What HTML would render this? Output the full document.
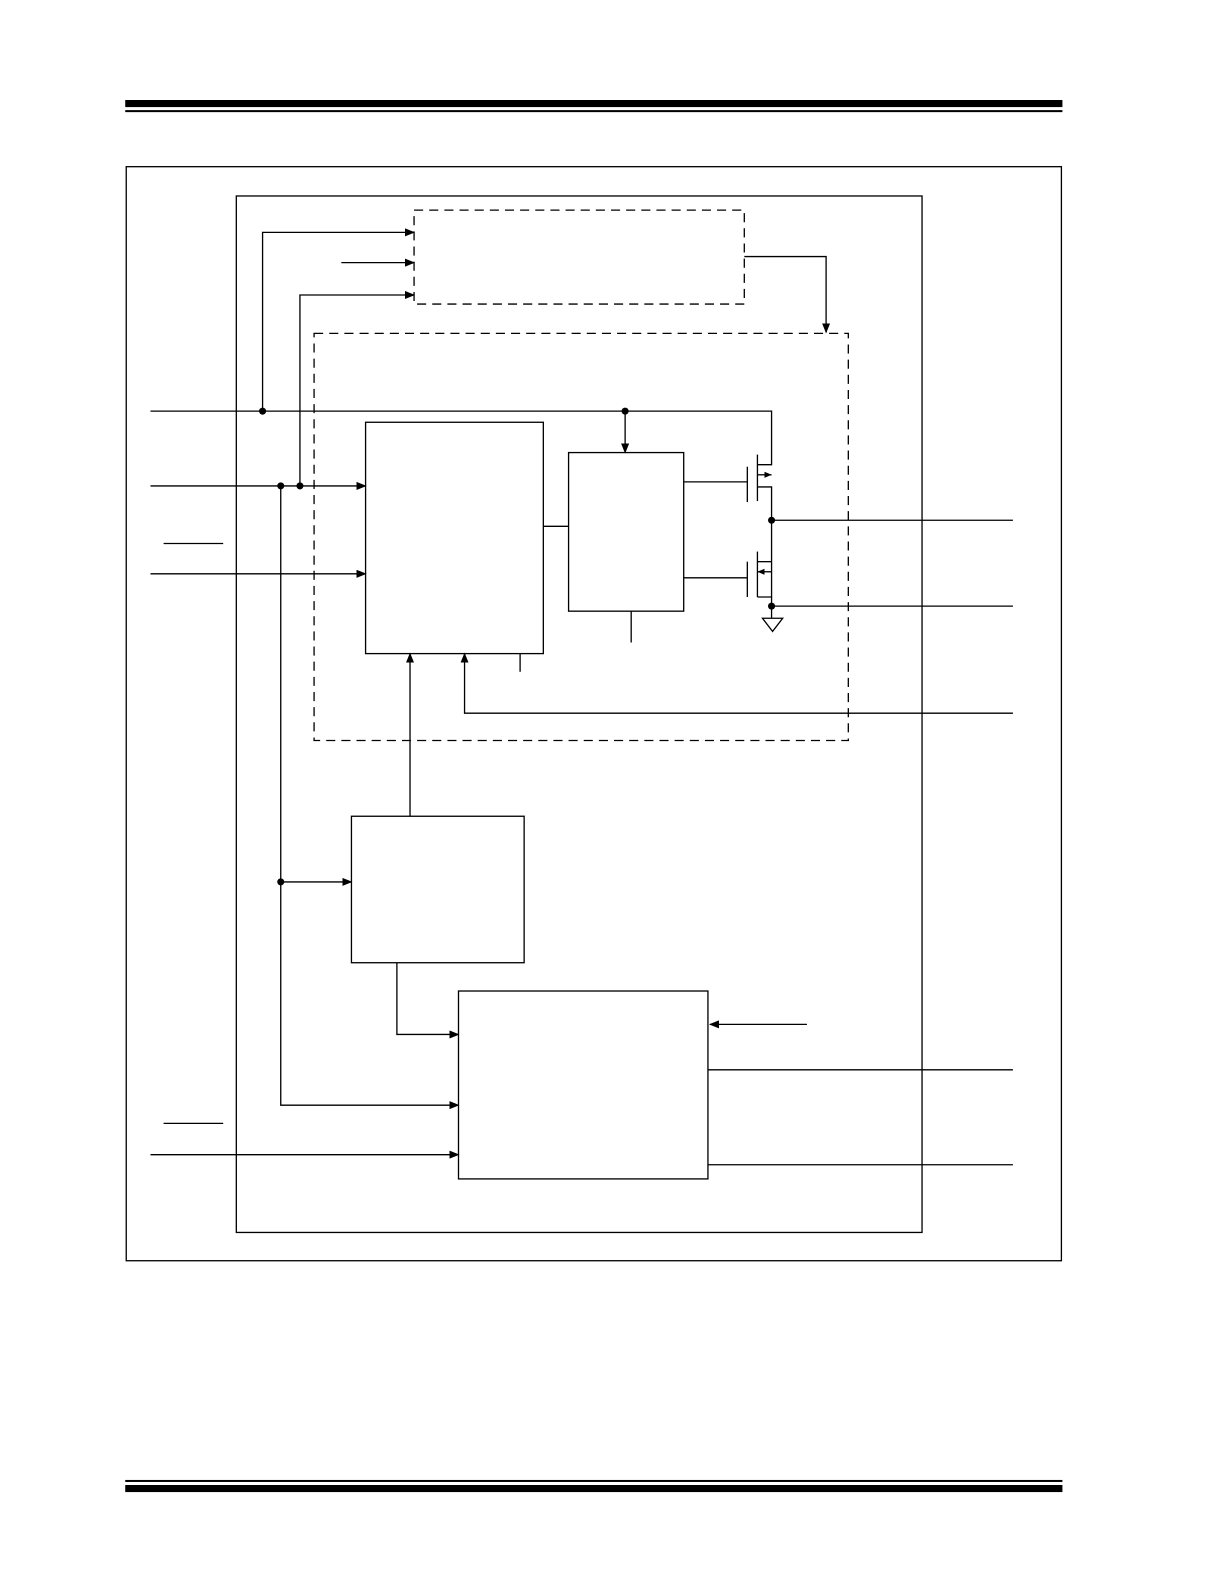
<!DOCTYPE html>
<html><head><meta charset="utf-8"><style>html,body{margin:0;padding:0;background:#fff}svg{display:block}</style></head>
<body>
<svg width="1224" height="1584" viewBox="0 0 1212 1568" preserveAspectRatio="none" xmlns="http://www.w3.org/2000/svg">
<defs>
<marker id="a" markerWidth="10" markerHeight="8" refX="9" refY="4" orient="auto" markerUnits="userSpaceOnUse"><path d="M0,0 L10,4 L0,8 z" fill="#000"/></marker>
</defs>
<rect x="124" y="99" width="928" height="7" fill="#000"/>
<rect x="124" y="109" width="928" height="2" fill="#000"/>
<rect x="124" y="1465" width="928" height="2" fill="#000"/>
<rect x="124" y="1470" width="928" height="7" fill="#000"/>
<g fill="none" stroke="#000" stroke-width="1.3">
<rect x="125" y="165" width="926" height="1083"/>
<rect x="234" y="194" width="679" height="1026"/>
<rect x="410" y="208" width="327" height="93" stroke-dasharray="9,6"/>
<rect x="311" y="330" width="529" height="403" stroke-dasharray="9,6"/>
<rect x="362" y="418" width="176" height="229"/>
<rect x="563" y="448" width="114" height="157"/>
<rect x="348" y="808" width="171" height="145"/>
<rect x="454" y="981" width="247" height="186"/>
<polyline points="149,407 764,407 764,460 750,460"/>
<polyline points="260,407 260,230 410,230" marker-end="url(#a)"/>
<line x1="338" y1="260" x2="410" y2="260" marker-end="url(#a)"/>
<line x1="619" y1="407" x2="619" y2="448" marker-end="url(#a)"/>
<line x1="149" y1="481" x2="362" y2="481" marker-end="url(#a)"/>
<polyline points="297,481 297,292 410,292" marker-end="url(#a)"/>
<polyline points="278,481 278,1094 454,1094" marker-end="url(#a)"/>
<line x1="278" y1="873" x2="348" y2="873" marker-end="url(#a)"/>
<line x1="162" y1="538" x2="221" y2="538"/>
<line x1="149" y1="568" x2="362" y2="568" marker-end="url(#a)"/>
<polyline points="737,254 818,254 818,329" marker-end="url(#a)"/>
<line x1="538" y1="521" x2="563" y2="521"/>
<line x1="625" y1="605" x2="625" y2="636"/>
<line x1="515" y1="647" x2="515" y2="665"/>
<line x1="406" y1="808" x2="406" y2="647" marker-end="url(#a)"/>
<polyline points="1003,706 460,706 460,647" marker-end="url(#a)"/>
<!-- mosfets -->
<polyline points="677,477 740,477"/>
<line x1="740" y1="462" x2="740" y2="497"/>
<line x1="750" y1="450" x2="750" y2="496"/>
<polyline points="750,482 764,482 764,591 750,591"/>
<line x1="750" y1="556" x2="764" y2="556"/>
<line x1="750" y1="470" x2="764" y2="470"/>
<polyline points="677,572 740,572"/>
<line x1="740" y1="556" x2="740" y2="591"/>
<line x1="750" y1="546" x2="750" y2="591"/>
<line x1="750" y1="566" x2="764" y2="566"/>
<line x1="764" y1="591" x2="764" y2="612"/>
<line x1="764" y1="515" x2="1003" y2="515"/>
<line x1="764" y1="600" x2="1003" y2="600"/>
<polygon points="755,612 775,612 765,625"/>
<polyline points="393,953 393,1024 454,1024" marker-end="url(#a)"/>
<line x1="799" y1="1014" x2="703" y2="1014" marker-end="url(#a)"/>
<line x1="701" y1="1059" x2="1003" y2="1059"/>
<line x1="701" y1="1153" x2="1003" y2="1153"/>
<line x1="162" y1="1112" x2="221" y2="1112"/>
<line x1="149" y1="1143" x2="454" y2="1143" marker-end="url(#a)"/>
</g>
<g fill="#000">
<polygon points="757,467 764,470 757,473"/>
<polygon points="757,563 750,566 757,569"/>
<circle cx="260" cy="407" r="3.5"/>
<circle cx="619" cy="407" r="3.5"/>
<circle cx="278" cy="481" r="3.5"/>
<circle cx="297" cy="481" r="3.5"/>
<circle cx="278" cy="873" r="3.5"/>
<circle cx="764" cy="515" r="3.5"/>
<circle cx="764" cy="600" r="3.5"/>
</g>
</svg>
</body></html>
